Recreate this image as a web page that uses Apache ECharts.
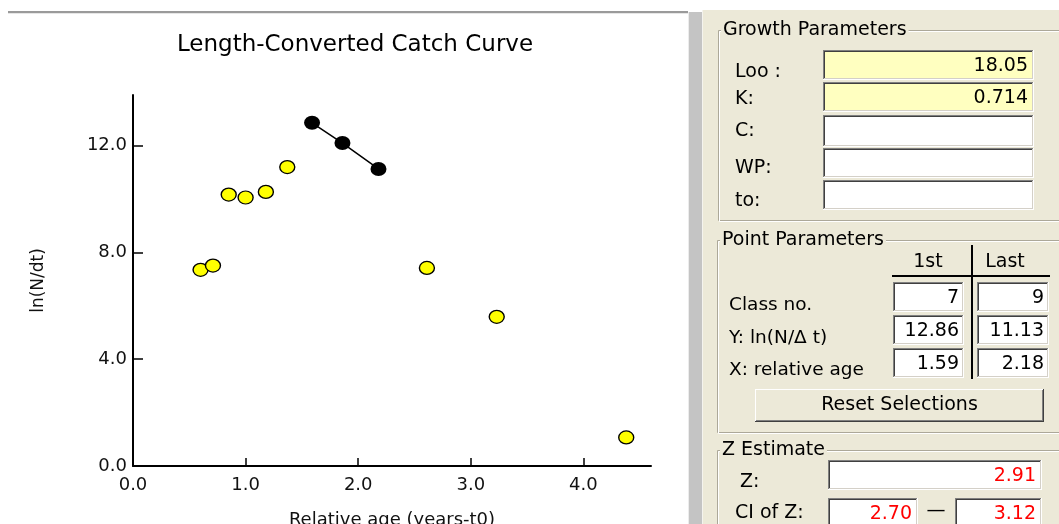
<!DOCTYPE html>
<html>
<head>
<meta charset="utf-8">
<script src="https://cdn.jsdelivr.net/npm/echarts@6/dist/echarts.min.js"></script>
<style>
html,body{margin:0;padding:0;background:#fff;}
#c{width:1059px;height:524px;}
</style>
</head>
<body>
<div id="c"></div>
<script>
// ---- data ----
const chartTitle = 'Length-Converted Catch Curve';
const xName = 'Relative age (years-t0)';
const yName = 'ln(N/dt)';
const xTicks = [0, 1, 2, 3, 4];
const yTicks = [0, 4, 8, 12];
const otherAge = [0.60, 0.71, 0.85, 1.00, 1.18, 1.37, 2.61, 3.23, 4.38];
const otherLnN = [7.35, 7.51, 10.17, 10.06, 10.27, 11.20, 7.42, 5.59, 1.07];
const selAge = [1.59, 1.86, 2.18];
const selLnN = [12.86, 12.10, 11.13];

const growthLabels = ['Loo :', 'K:', 'C:', 'WP:', 'to:'];
const growthValues = ['18.05', '0.714', '', '', ''];
const pointLabels = ['Class no.', 'Y: ln(N/\u0394 t)', 'X: relative age'];
const pointFirst = ['7', '12.86', '1.59'];
const pointLast = ['9', '11.13', '2.18'];
const zValue = '2.91';
const ciLow = '2.70';
const ciHigh = '3.12';

// ---- panel helpers ----
const FONT = '"DejaVu Sans", Verdana, sans-serif';
const PF = 19;
const G = [];
function R(x, y, w, h, fill, stroke, lw) {
  G.push({type: 'rect', silent: true, shape: {x: x, y: y, width: w, height: h},
    style: {fill: fill || 'none', stroke: stroke || null, lineWidth: lw || 0}});
}
function L(x1, y1, x2, y2, c, w) {
  G.push({type: 'line', silent: true, shape: {x1: x1, y1: y1, x2: x2, y2: y2},
    style: {stroke: c, lineWidth: w || 1}});
}
function T(x, y, s, o) {
  o = o || {};
  const st = {x: x, y: y, text: s, font: (o.size || PF) + 'px ' + FONT, fill: o.color || '#000',
    align: o.align || 'left', textAlign: o.align || 'left', verticalAlign: 'middle', textVerticalAlign: 'middle'};
  if (o.bg) { st.backgroundColor = o.bg; st.padding = [0, 2, 0, 2]; }
  G.push({type: 'text', silent: true, style: st});
}
function box(x, y, w, h, fill) {
  R(x, y, w, h, fill);
  L(x, y + 0.5, x + w, y + 0.5, '#808080');
  L(x + 0.5, y, x + 0.5, y + h, '#808080');
  L(x + 1, y + 1.5, x + w - 1, y + 1.5, '#404040');
  L(x + 1.5, y + 1, x + 1.5, y + h - 1, '#404040');
  L(x, y + h - 0.5, x + w, y + h - 0.5, '#ffffff');
  L(x + w - 0.5, y, x + w - 0.5, y + h, '#ffffff');
  L(x + 1, y + h - 1.5, x + w - 1, y + h - 1.5, '#d4d0c8');
  L(x + w - 1.5, y + 1, x + w - 1.5, y + h - 1, '#d4d0c8');
}
function button(x, y, w, h, label) {
  R(x, y, w, h, '#ece9d8');
  L(x, y + 0.5, x + w, y + 0.5, '#ffffff');
  L(x + 0.5, y, x + 0.5, y + h, '#ffffff');
  L(x, y + h - 0.5, x + w, y + h - 0.5, '#404040');
  L(x + w - 0.5, y, x + w - 0.5, y + h, '#404040');
  L(x + 1, y + h - 1.5, x + w - 1, y + h - 1.5, '#808080');
  L(x + w - 1.5, y + 1, x + w - 1.5, y + h - 1, '#808080');
  T(x + w / 2, y + h / 2, label, {align: 'center'});
}
function group(x, y, w, h, title) {
  R(x + 0.5, y + 0.5, w, h, null, '#aca899', 1);
  R(x + 1.5, y + 1.5, w, h, null, '#ffffff', 1);
  T(x + 3, y, title, {bg: '#ece9d8'});
}

// background frame pieces
L(8, 12, 688, 12, '#9a9a9a', 2);
L(8, 13.5, 688, 13.5, '#e6e6e6', 1);
R(702, 10, 357, 514, '#ece9d8');
R(689, 12, 13, 512, '#c4c4c4');
L(688.5, 12, 688.5, 524, '#ececec');
L(702.5, 10, 702.5, 524, '#f4f3ee');

// Growth Parameters
group(718, 30, 360, 190, 'Growth Parameters');
const gBoxY = [50, 82, 115, 148, 180];
const gBoxH = [30, 30, 32, 30, 30];
const gLabY = [72, 99, 131, 168, 201];
growthLabels.forEach(function (lab, i) {
  T(735, gLabY[i], lab);
  box(823, gBoxY[i], 211, gBoxH[i], i < 2 ? '#ffffc0' : '#ffffff');
  if (growthValues[i]) T(1028, gBoxY[i] + gBoxH[i] / 2 + 1, growthValues[i], {align: 'right'});
});

// Point Parameters
group(717, 240, 360, 192, 'Point Parameters');
T(928, 262, '1st', {align: 'center'});
T(1005, 262, 'Last', {align: 'center'});
L(892, 276, 1050, 276, '#000', 2);
L(972, 245, 972, 379, '#000', 2);
const pRowY = [282, 315, 348];
const pLabY = [305, 338, 370];
pointLabels.forEach(function (lab, i) {
  T(729, pLabY[i], lab, {size: 18.5});
  box(893, pRowY[i], 71, 30, '#ffffff');
  box(977, pRowY[i], 72, 30, '#ffffff');
  T(959, pRowY[i] + 16, pointFirst[i], {align: 'right'});
  T(1044, pRowY[i] + 16, pointLast[i], {align: 'right'});
});
button(755, 389, 289, 33, 'Reset Selections');

// Z Estimate
group(717, 450, 360, 120, 'Z Estimate');
T(740, 482, 'Z:');
box(828, 460, 214, 30, '#ffffff');
T(1036, 476, zValue, {align: 'right', color: '#ff0000'});
T(735, 513, 'CI of Z:');
box(828, 498, 90, 32, '#ffffff');
T(912, 514, ciLow, {align: 'right', color: '#ff0000'});
T(936, 511, '\u2014', {align: 'center'});
box(955, 498, 87, 32, '#ffffff');
T(1036, 514, ciHigh, {align: 'right', color: '#ff0000'});

// chart title
T(355, 45, chartTitle, {size: 23, align: 'center'});

const chart = echarts.init(document.getElementById('c'), null, {renderer: 'canvas'});
const axisFont = {fontFamily: FONT, fontSize: 18, color: '#111'};
chart.setOption({
  animation: false,
  backgroundColor: '#ffffff',
  grid: {left: 133, right: 408, top: 95, bottom: 58, containLabel: false, outerBoundsMode: 'none'},
  xAxis: {
    type: 'value', min: 0, max: 4.6,
    name: xName, nameLocation: 'middle', nameGap: 45,
    nameTextStyle: {fontFamily: FONT, fontSize: 18, color: '#111'},
    axisLine: {show: true, onZero: false, lineStyle: {color: '#000', width: 2}},
    axisTick: {show: true, inside: true, length: 8, lineStyle: {color: '#000', width: 1.5}, customValues: xTicks},
    axisLabel: Object.assign({margin: 10, customValues: xTicks, formatter: function (v) { return v.toFixed(1); }}, axisFont),
    splitLine: {show: false}
  },
  yAxis: {
    type: 'value', min: 0, max: 13.9,
    name: yName, nameLocation: 'middle', nameGap: 86, nameRotate: 90,
    nameTextStyle: {fontFamily: FONT, fontSize: 17, color: '#111'},
    axisLine: {show: true, onZero: false, lineStyle: {color: '#000', width: 2}},
    axisTick: {show: true, inside: true, length: 10, lineStyle: {color: '#000', width: 1.5}, customValues: yTicks},
    axisLabel: Object.assign({margin: 6, customValues: yTicks, formatter: function (v) { return v.toFixed(1); }}, axisFont),
    splitLine: {show: false}
  },
  series: [
    {
      type: 'line', name: 'selected',
      data: selAge.map(function (a, i) { return [a, selLnN[i]]; }),
      symbol: 'circle', symbolSize: [16, 14],
      lineStyle: {color: '#000', width: 1.5},
      itemStyle: {color: '#000', borderColor: '#000', borderWidth: 0},
      z: 3
    },
    {
      type: 'scatter', name: 'other',
      data: otherAge.map(function (a, i) { return [a, otherLnN[i]]; }),
      symbol: 'circle', symbolSize: [15, 13],
      itemStyle: {color: '#ffff00', borderColor: '#000', borderWidth: 1.3, opacity: 1},
      z: 2
    }
  ],
  graphic: G
});
</script>
</body>
</html>
